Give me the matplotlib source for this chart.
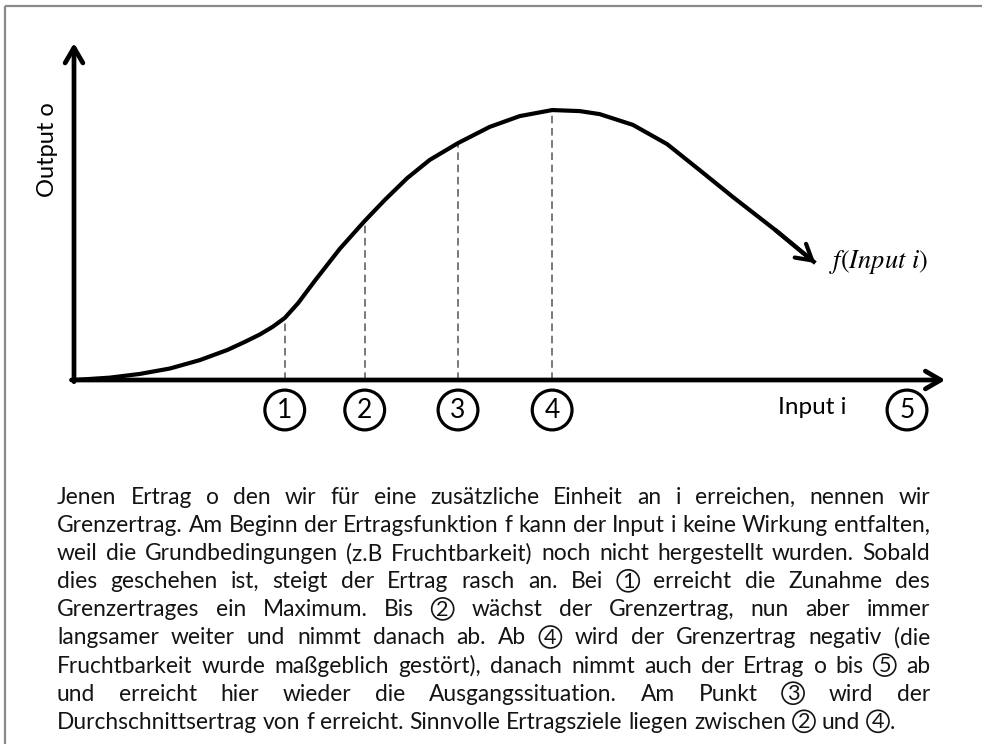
import matplotlib
matplotlib.use("Agg")
import matplotlib.pyplot as plt
from matplotlib.patches import Circle

plt.rcParams["font.family"] = ["Lato", "DejaVu Sans"]
plt.rcParams["mathtext.fontset"] = "stix"

# production curve (input i, output o)
input_i = [0.00, 0.43, 0.79, 1.15, 1.51, 1.84, 2.05, 2.23, 2.38, 2.53, 2.69, 2.89, 3.19,
           3.49, 3.73, 4.00, 4.27, 4.61, 4.99, 5.35, 5.74, 6.07, 6.31, 6.71, 7.12, 7.51,
           7.91, 8.42, 8.90]
output_o = [0.00, 0.07, 0.18, 0.34, 0.59, 0.89, 1.13, 1.35, 1.57, 1.84, 2.28, 2.94, 3.89,
            4.72, 5.34, 5.99, 6.53, 7.03, 7.51, 7.83, 8.01, 7.98, 7.89, 7.57, 7.00, 6.23,
            5.43, 4.45, 3.47]

# marked points 1-4 on the curve, 5 at the end of the input axis
mark_i = [2.53, 3.49, 4.61, 5.74, 10.0]
mark_o = [1.84, 4.72, 7.03, 8.01]
mark_labels = ["1", "2", "3", "4", "5"]

x_label = "Input i"
y_label = "Output o"
curve_label = r"$f(Input\ i)$"

text_lines = [
    "Jenen Ertrag o den wir für eine zusätzliche Einheit an i erreichen, nennen wir",
    "Grenzertrag. Am Beginn der Ertragsfunktion f kann der Input i keine Wirkung entfalten,",
    "weil die Grundbedingungen (z.B Fruchtbarkeit) noch nicht hergestellt wurden. Sobald",
    "dies geschehen ist, steigt der Ertrag rasch an. Bei ① erreicht die Zunahme des",
    "Grenzertrages ein Maximum. Bis ② wächst der Grenzertrag, nun aber immer",
    "langsamer weiter und nimmt danach ab. Ab ④ wird der Grenzertrag negativ (die",
    "Fruchtbarkeit wurde maßgeblich gestört), danach nimmt auch der Ertrag o bis ⑤ ab",
    "und erreicht hier wieder die Ausgangssituation. Am Punkt ③ wird der",
    "Durchschnittsertrag von f erreicht. Sinnvolle Ertragsziele liegen zwischen ② und ④.",
]

W, H = 982, 744
fig = plt.figure(figsize=(W / 100, H / 100), dpi=100)

# page axes in pixel units for the border and the paragraph
page = fig.add_axes([0, 0, 1, 1])
page.set_xlim(0, W)
page.set_ylim(H, 0)
page.axis("off")
page.plot([5, 5], [H, 6], color="#8a8a8a", lw=1.6, solid_capstyle="butt")
page.plot([5, W], [6, 6], color="#8a8a8a", lw=1.6, solid_capstyle="butt")

# diagram axes: origin at pixel (74, 380), i=10 at x=907, o=10 at y=43
ox, oy, ex, ty = 74, 380, 907, 43
ax = fig.add_axes([ox / W, 1 - oy / H, (ex - ox) / W, (oy - ty) / H])
ax.set_xlim(0, 10)
ax.set_ylim(0, 10)
ax.axis("off")

arrow = dict(arrowstyle="->,head_length=0.55,head_width=0.32", lw=3.4, color="black",
             shrinkA=0, shrinkB=0, mutation_scale=20)
ax.annotate("", xy=(0, 10), xytext=(0, -0.05), arrowprops=arrow, annotation_clip=False)
ax.annotate("", xy=(10.46, 0), xytext=(-0.03, 0), arrowprops=arrow, annotation_clip=False)

# dashed drop lines
for mi, mo in zip(mark_i[:4], mark_o):
    ax.plot([mi, mi], [0, mo], color="#555555", lw=1.1, ls=(0, (5, 3)))

ax.plot(input_i, output_o, color="black", lw=3.0, solid_capstyle="butt",
        solid_joinstyle="round", clip_on=False)
ax.annotate("", xy=(input_i[-1], output_o[-1]), xytext=(input_i[-2], output_o[-2]),
            arrowprops=dict(arrow, lw=3.0), annotation_clip=False)

for mi, lab in zip(mark_i, mark_labels):
    ax.annotate(lab, xy=(mi, 0), xytext=(0, -30), textcoords="offset pixels",
                ha="center", va="center", fontsize=19, annotation_clip=False,
                bbox=dict(boxstyle="circle,pad=0.28", fc="white", ec="black", lw=2.3))

page.text(48, 150, y_label, rotation=90, ha="center", va="center", fontsize=17)
page.text(812, 408, x_label, ha="center", va="center", fontsize=17.5)
page.text(829, 262, curve_label, ha="left", va="center", fontsize=19)

# justified paragraph
CIRC = "①②③④⑤"
left, right = 57, 930
base0, step = 504, 28.1
rad = 11
color = "#141414"
fig.canvas.draw()
rend = fig.canvas.get_renderer()


def text_w(s, size):
    t = page.text(0, 0, s, fontsize=size)
    w = t.get_window_extent(renderer=rend).width
    t.remove()
    return w


def token_w(tok, size):
    if tok[0] in CIRC:
        return 2 * rad + 2 + (text_w(tok[1:], size) if len(tok) > 1 else 0)
    return text_w(tok, size)


def natural_w(line, size):
    toks = line.split()
    space = text_w("a a", size) - text_w("aa", size)
    return sum(token_w(t, size) for t in toks) + space * (len(toks) - 1)


size = 15.0
size = size * (right - left) / natural_w(text_lines[1], size)
space = text_w("a a", size) - text_w("aa", size)

for k, line in enumerate(text_lines):
    toks = line.split()
    widths = [token_w(t, size) for t in toks]
    base = base0 + k * step
    if k < len(text_lines) - 1:
        gap = (right - left - sum(widths)) / (len(toks) - 1)
    else:
        gap = space
    x = left
    for tok, w in zip(toks, widths):
        if tok[0] in CIRC:
            cx, cy = x + rad + 1, base - 7.5
            page.add_patch(Circle((cx, cy), rad, fill=False, ec=color, lw=1.2))
            digit = str(CIRC.index(tok[0]) + 1)
            page.text(cx, cy + 7, digit, ha="center", va="baseline",
                      fontsize=size * 0.95, color=color)
            if len(tok) > 1:
                page.text(x + 2 * rad + 2, base, tok[1:], ha="left", va="baseline",
                          fontsize=size, color=color)
        else:
            page.text(x, base, tok, ha="left", va="baseline", fontsize=size, color=color)
        x += w + gap

fig.savefig("out.png", dpi=100)
